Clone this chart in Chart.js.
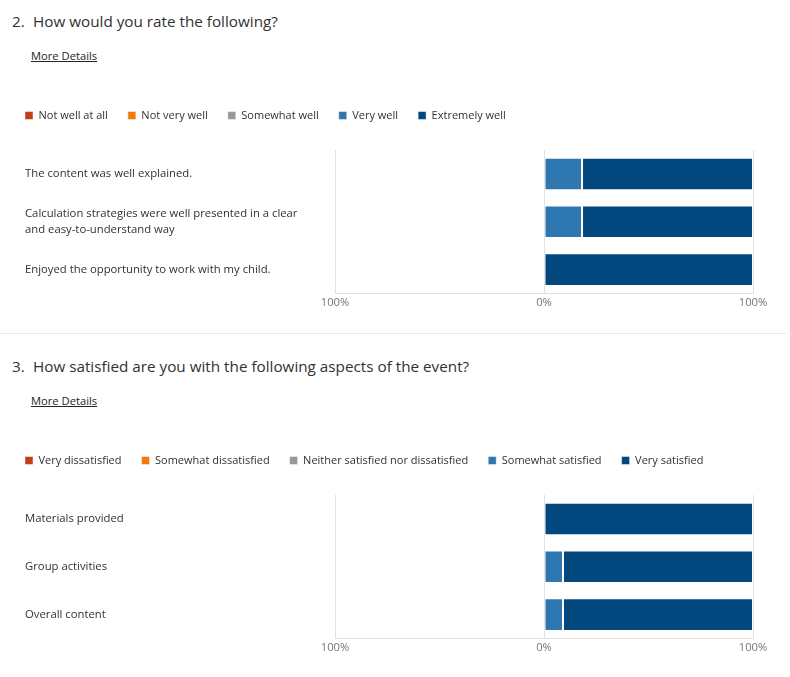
<!DOCTYPE html>
<html>
<head>
<meta charset="utf-8">
<script src="https://cdn.jsdelivr.net/npm/chart.js@4.4.1/dist/chart.umd.min.js"></script>
<style>
    html, body { margin: 0; padding: 0; background: #fff; }
    body { width: 790px; height: 677px; position: relative; overflow: hidden; font-family: "Open Sans", sans-serif; color: #323130; }
    .title { position: absolute; left: 12px; font-size: 15.25px; line-height: 20px; white-space: nowrap; }
    .title .num { display: inline-block; width: 21px; }
    .details { position: absolute; left: 31px; font-size: 11.2px; line-height: 16px; text-decoration: underline; color: #252423; }
    .sep { position: absolute; left: 0; top: 333px; width: 786px; height: 1px; background: #e8e8e8; }
    .chart-box { position: absolute; left: 0; width: 790px; height: 233px; }
</style>
</head>
<body>
<div class="title" style="top: 11px;"><span class="num">2.</span>How would you rate the following?</div>
<div class="details" style="top: 48px;">More Details</div>
<div class="chart-box" style="top: 80px;"><canvas id="q2Chart"></canvas></div>

<div class="sep"></div>

<div class="title" style="top: 356px;"><span class="num">3.</span>How satisfied are you with the following aspects of the event?</div>
<div class="details" style="top: 393px;">More Details</div>
<div class="chart-box" style="top: 425px;"><canvas id="q3Chart"></canvas></div>

<script>
// Question 2
const q2Categories = [
    'The content was well explained.',
    ['Calculation strategies were well presented in a clear', 'and easy-to-understand way'],
    'Enjoyed the opportunity to work with my child.'
];
const q2Options = ['Not well at all', 'Not very well', 'Somewhat well', 'Very well', 'Extremely well'];
const q2NotWellAtAll = [0, 0, 0];
const q2NotVeryWell = [0, 0, 0];
const q2SomewhatWell = [0, 0, 0];
const q2VeryWell = [18.2, 18.2, 0];
const q2ExtremelyWell = [81.8, 81.8, 100];

// Question 3
const q3Categories = ['Materials provided', 'Group activities', 'Overall content'];
const q3Options = ['Very dissatisfied', 'Somewhat dissatisfied', 'Neither satisfied nor dissatisfied', 'Somewhat satisfied', 'Very satisfied'];
const q3VeryDissatisfied = [0, 0, 0];
const q3SomewhatDissatisfied = [0, 0, 0];
const q3Neither = [0, 0, 0];
const q3SomewhatSatisfied = [0, 9.1, 9.1];
const q3VerySatisfied = [100, 90.9, 90.9];

const xTicks = [-100, 0, 100];

const colors = ['#c43e1c', '#f07a0b', '#999999', '#2e77b0', '#03477f'];
const FONT = '"Open Sans", sans-serif';

// the two left-hand options go to the negative side of the axis
function buildDatasets(names, series) {
    return names.map((name, i) => ({
        label: name,
        data: i < 2 ? series[i].map(v => -v) : series[i],
        backgroundColor: colors[i],
        borderColor: 'rgba(255, 255, 255, 0.45)',
        borderWidth: 1,
        borderSkipped: false,
        barPercentage: 0.68,
        categoryPercentage: 1,
        stack: 'rating'
    }));
}

// legend sits further left than the labels and needs a bigger gap below
const legendSpacing = {
    id: 'legendSpacing',
    afterInit(chart) {
        const fit = chart.legend.fit;
        chart.legend.fit = function () {
            fit.bind(chart.legend)();
            this.height += 19;
        };
    },
    afterLayout(chart) {
        chart.legend.left = 5;
    }
};

function makeChart(id, categories, names, series) {
    return new Chart(document.getElementById(id), {
        type: 'bar',
        data: {
            labels: categories,
            datasets: buildDatasets(names, series)
        },
        options: {
            indexAxis: 'y',
            responsive: true,
            maintainAspectRatio: false,
            animation: false,
            layout: {
                padding: { top: 10, left: 25, right: 37, bottom: 0 }
            },
            plugins: {
                legend: {
                    display: true,
                    position: 'top',
                    align: 'start',
                    labels: {
                        boxWidth: 8,
                        boxHeight: 8,
                        padding: 20,
                        color: '#323130',
                        font: { family: FONT, size: 11 }
                    }
                },
                tooltip: { enabled: false }
            },
            scales: {
                x: {
                    stacked: true,
                    min: -100,
                    max: 100,
                    afterBuildTicks: (scale) => {
                        scale.ticks = xTicks.map(v => ({ value: v }));
                    },
                    ticks: {
                        padding: 3,
                        color: '#767676',
                        font: { family: FONT, size: 11.2 },
                        callback: (v) => Math.abs(v) + '%'
                    },
                    grid: {
                        color: '#e1e1e1',
                        drawTicks: false
                    },
                    border: { display: true, color: '#e1e1e1' }
                },
                y: {
                    stacked: true,
                    afterFit: (scale) => { scale.width = 310; },
                    ticks: {
                        crossAlign: 'far',
                        color: '#323130',
                        font: { family: FONT, size: 11.3, lineHeight: 1.5 }
                    },
                    grid: { display: false },
                    border: { display: false }
                }
            }
        },
        plugins: [legendSpacing]
    });
}

makeChart('q2Chart', q2Categories, q2Options,
    [q2NotWellAtAll, q2NotVeryWell, q2SomewhatWell, q2VeryWell, q2ExtremelyWell]);
makeChart('q3Chart', q3Categories, q3Options,
    [q3VeryDissatisfied, q3SomewhatDissatisfied, q3Neither, q3SomewhatSatisfied, q3VerySatisfied]);
</script>
</body>
</html>
